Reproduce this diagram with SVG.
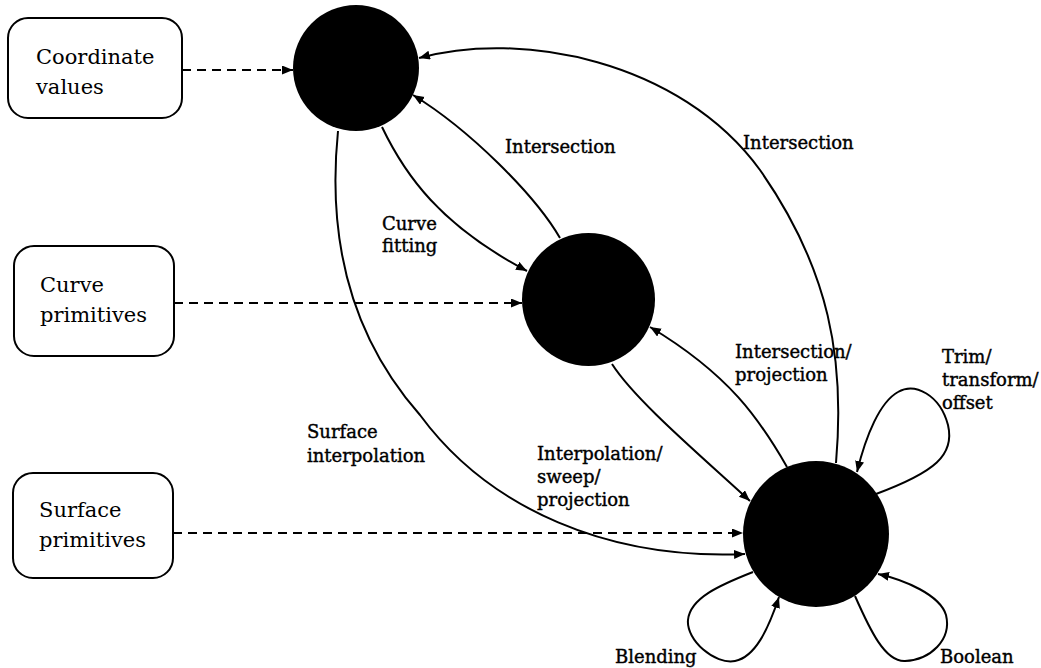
<svg xmlns="http://www.w3.org/2000/svg" width="1041" height="668" viewBox="0 0 1041 668">
  <style>
    .box { fill: #fff; stroke: #000; stroke-width: 2; }
    .state { fill: #000; }
    .boxtext { font-family: "DejaVu Serif", "Liberation Serif", serif; font-size: 21px; fill: #000; }
    .label { font-family: "DejaVu Serif", "Liberation Serif", serif; font-size: 18px; fill: #000; stroke: #000; stroke-width: 0.4; }
    .edge { fill: none; stroke: #000; stroke-width: 2; marker-end: url(#arrow); }
    .dashed { stroke-dasharray: 9 6; }
  </style>
  <defs>
    <marker id="arrow" markerUnits="userSpaceOnUse" markerWidth="12" markerHeight="10" refX="11" refY="4.5" orient="auto">
      <path d="M0,0 L11,4.5 L0,9 z" fill="#000"/>
    </marker>
  </defs>
  <rect width="1041" height="668" fill="#fff"/>

  <!-- connectors -->
  <g id="connectors">
    <!-- input boxes feeding the states -->
    <path class="edge dashed" d="M182,70 L293,70"/>
    <path class="edge dashed" d="M174,303 L522,303"/>
    <path class="edge dashed" d="M173,533 L743,533"/>
    <!-- curve fitting: points to curves -->
    <path class="edge" d="M382,127 C405,175 440,225 527,271"/>
    <!-- intersection: curves to points -->
    <path class="edge" d="M560,238 C535,195 470,130 413,95"/>
    <!-- intersection: surfaces to points -->
    <path class="edge" d="M836,463 C845,360 830,270 760,170 C680,60 520,30 419,58"/>
    <!-- surface interpolation: points to surfaces -->
    <path class="edge" d="M338,131 C328,230 345,330 420,415 C490,510 610,560 745,554"/>
    <!-- interpolation/sweep/projection: curves to surfaces -->
    <path class="edge" d="M612,364 C635,400 700,455 750,501"/>
    <!-- intersection/projection: surfaces to curves -->
    <path class="edge" d="M787,467 C760,420 730,375 650,327"/>
    <!-- self loops on the surface state -->
    <path class="edge" d="M876,494 C935,472 955,455 948,425 C940,395 915,382 898,392 C880,402 866,435 857,472"/>
    <path class="edge" d="M753,572 C720,585 690,598 688,620 C686,640 715,665 735,661 C755,657 768,630 779,597"/>
    <path class="edge" d="M855,596 C870,630 885,662 905,661 C930,660 952,640 946,615 C940,595 905,580 878,574"/>
  </g>

  <!-- input boxes -->
  <g id="coordinate-values">
    <rect class="box" x="8" y="18" width="174" height="100" rx="20"/>
    <text class="boxtext" x="36" y="64">Coordinate</text>
    <text class="boxtext" x="36" y="94">values</text>
  </g>
  <g id="curve-primitives">
    <rect class="box" x="14" y="246" width="160" height="110" rx="20"/>
    <text class="boxtext" x="40" y="292">Curve</text>
    <text class="boxtext" x="40" y="322">primitives</text>
  </g>
  <g id="surface-primitives">
    <rect class="box" x="13" y="473" width="160" height="105" rx="20"/>
    <text class="boxtext" x="39" y="517">Surface</text>
    <text class="boxtext" x="39" y="547">primitives</text>
  </g>

  <!-- states -->
  <g id="points"><circle class="state" cx="356" cy="68" r="63"/></g>
  <g id="curves"><circle class="state" cx="588.5" cy="299.5" r="66.5"/></g>
  <g id="surfaces"><circle class="state" cx="816" cy="534" r="73"/></g>

  <!-- edge labels -->
  <g id="labels">
    <text class="label" x="505" y="153">Intersection</text>
    <text class="label" x="743" y="149">Intersection</text>
    <text class="label" x="382" y="230">Curve</text>
    <text class="label" x="382" y="252">fitting</text>
    <text class="label" x="735" y="358">Intersection/</text>
    <text class="label" x="735" y="381">projection</text>
    <text class="label" x="942" y="363">Trim/</text>
    <text class="label" x="942" y="386">transform/</text>
    <text class="label" x="942" y="409">offset</text>
    <text class="label" x="307" y="438">Surface</text>
    <text class="label" x="307" y="462">interpolation</text>
    <text class="label" x="537" y="460">Interpolation/</text>
    <text class="label" x="537" y="483">sweep/</text>
    <text class="label" x="537" y="506">projection</text>
    <text class="label" x="615" y="663">Blending</text>
    <text class="label" x="940" y="663">Boolean</text>
  </g>
</svg>
